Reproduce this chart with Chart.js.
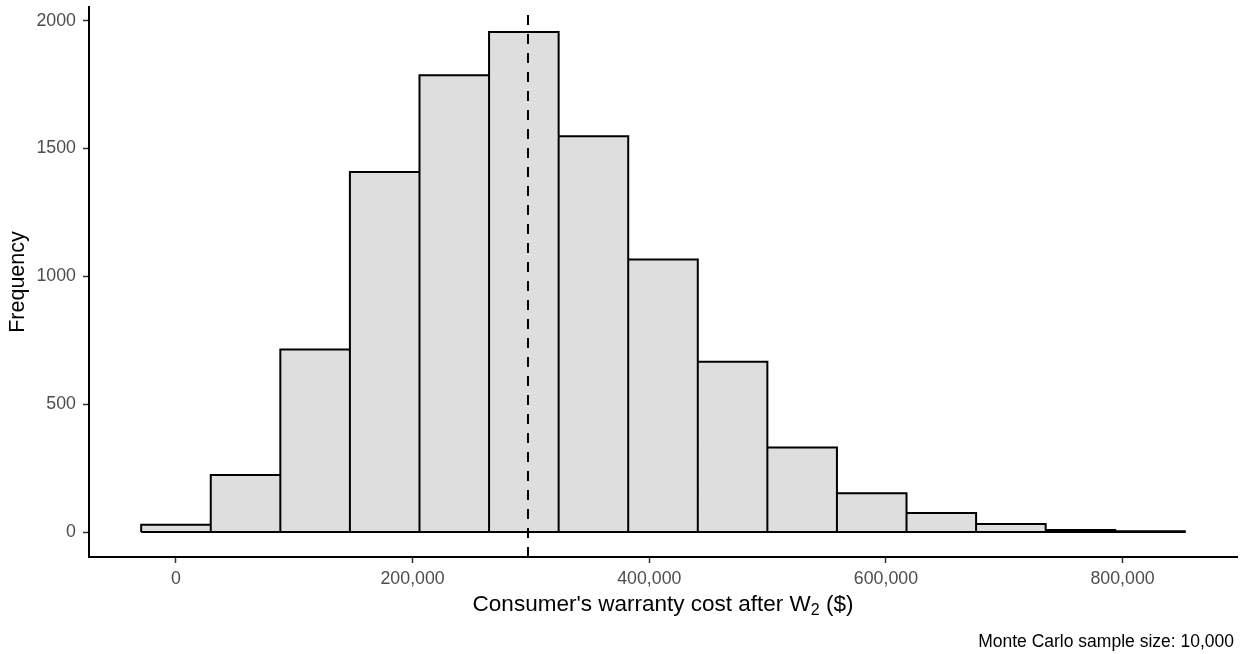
<!DOCTYPE html>
<html>
<head>
<meta charset="utf-8">
<title>Consumer's warranty cost after W2</title>
<script src="https://cdn.jsdelivr.net/npm/chart.js@4/dist/chart.umd.min.js"></script>
<style>
  html, body { margin: 0; padding: 0; background: #ffffff; }
  #chart { display: block; }
</style>
</head>
<body>
<canvas id="chart" width="1251" height="654"></canvas>
<script>
/* Histogram of Monte Carlo draws: consumer's warranty cost after W2 */

// bin edges ($) and counts per bin
const binEdges = [-29400, 29400, 88200, 147000, 205800, 264600, 323400, 382200,
                  441000, 499800, 558600, 617400, 676200, 735000, 793800, 852600];
const binCounts = [28, 223, 714, 1408, 1787, 1956, 1548, 1066, 666, 331, 152, 74, 31, 8, 3];

// dashed reference line (mean cost)
const meanCost = 297500;

// axis ranges (ggplot style 5% expansion) and tick positions
const xRange = [-73500, 896700];
const yRange = [-97.8, 2053.8];
const xTicks = [0, 200000, 400000, 600000, 800000];
const yTicks = [0, 500, 1000, 1500, 2000];

const xTitleMain = "Consumer's warranty cost after W";
const xTitleSub = '2';
const xTitleEnd = ' ($)';
const yTitle = 'Frequency';
const captionText = 'Monte Carlo sample size: 10,000';

const FONT = '"Liberation Sans", Arial, Helvetica, sans-serif';

// bar fill points: one per bin, at the bin centre
const barPoints = binCounts.map((n, i) => ({ x: (binEdges[i] + binEdges[i + 1]) / 2, y: n }));

// outline: every rect stroked, like geom_histogram(colour = 'black')
const outlinePoints = [];
binCounts.forEach((n, i) => {
  outlinePoints.push({ x: binEdges[i], y: 0 });
  outlinePoints.push({ x: binEdges[i], y: n });
  outlinePoints.push({ x: binEdges[i + 1], y: n });
  outlinePoints.push({ x: binEdges[i + 1], y: 0 });
});
outlinePoints.push({ x: binEdges[0], y: 0 }); // baseline back to start

const vlinePoints = [{ x: meanCost, y: yRange[0] }, { x: meanCost, y: yRange[1] }];

// x title with a subscript and the caption are drawn by hand
const textPlugin = {
  id: 'ggText',
  afterDraw(chart) {
    const { ctx, chartArea } = chart;
    ctx.save();
    ctx.fillStyle = '#000000';
    ctx.textBaseline = 'alphabetic';

    const mainFont = '22.5px ' + FONT;
    const subFont = '16px ' + FONT;
    ctx.font = mainFont;
    const w1 = ctx.measureText(xTitleMain).width;
    const w3 = ctx.measureText(xTitleEnd).width;
    ctx.font = subFont;
    const w2 = ctx.measureText(xTitleSub).width;
    let x = (chartArea.left + chartArea.right) / 2 - (w1 + w2 + w3) / 2;
    const base = 611;
    ctx.textAlign = 'left';
    ctx.font = mainFont;
    ctx.fillText(xTitleMain, x, base);
    x += w1;
    ctx.font = subFont;
    ctx.fillText(xTitleSub, x, base + 4);
    x += w2;
    ctx.font = mainFont;
    ctx.fillText(xTitleEnd, x, base);

    ctx.font = '17.5px ' + FONT;
    ctx.textAlign = 'right';
    ctx.fillText(captionText, chartArea.right - 3, 647);
    ctx.restore();
  }
};

const tickMarks = {
  drawOnChartArea: false,
  drawTicks: true,
  tickLength: 6,
  tickWidth: 1.5,
  tickColor: '#333333',
};

new Chart(document.getElementById('chart'), {
  type: 'bar',
  data: {
    datasets: [
      {
        type: 'line',
        data: vlinePoints,
        borderColor: '#000000',
        borderWidth: 2,
        borderDash: [10, 9],
        pointRadius: 0,
        fill: false,
        order: 0,
      },
      {
        type: 'line',
        data: outlinePoints,
        borderColor: '#000000',
        borderWidth: 2,
        borderJoinStyle: 'miter',
        borderCapStyle: 'butt',
        tension: 0,
        pointRadius: 0,
        fill: false,
        order: 1,
      },
      {
        type: 'bar',
        data: barPoints,
        backgroundColor: '#DEDEDE',
        borderWidth: 0,
        barPercentage: 1,
        categoryPercentage: 1,
        order: 2,
      },
    ],
  },
  options: {
    responsive: false,
    devicePixelRatio: 1,
    animation: false,
    layout: { padding: { top: 7, right: 14, bottom: 0, left: 0 } },
    plugins: {
      legend: { display: false },
      tooltip: { enabled: false },
    },
    scales: {
      x: {
        type: 'linear',
        min: xRange[0],
        max: xRange[1],
        offset: false,
        afterBuildTicks: s => { s.ticks = xTicks.map(v => ({ value: v })); },
        afterFit: s => { s.height = 97; s.paddingLeft = 0; s.paddingRight = 0; },
        grid: { ...tickMarks, offset: false },
        border: { display: true, color: '#000000', width: 2 },
        ticks: {
          autoSkip: false,
          maxRotation: 0,
          color: '#4D4D4D',
          font: { family: FONT, size: 17.8 },
          padding: 5,
          callback: v => v.toLocaleString('en-US'),
        },
      },
      y: {
        type: 'linear',
        min: yRange[0],
        max: yRange[1],
        afterBuildTicks: s => { s.ticks = yTicks.map(v => ({ value: v })); },
        afterFit: s => { s.width = 89; s.paddingTop = 0; s.paddingBottom = 0; },
        grid: tickMarks,
        border: { display: true, color: '#000000', width: 2 },
        ticks: {
          autoSkip: false,
          color: '#4D4D4D',
          font: { family: FONT, size: 17.8 },
          padding: 7,
          callback: v => String(v),
        },
        title: {
          display: true,
          text: yTitle,
          color: '#000000',
          font: { family: FONT, size: 21.5, lineHeight: 1.2 },
          padding: { top: 5.5, bottom: 0 },
        },
      },
    },
  },
  plugins: [textPlugin],
});
</script>
</body>
</html>
